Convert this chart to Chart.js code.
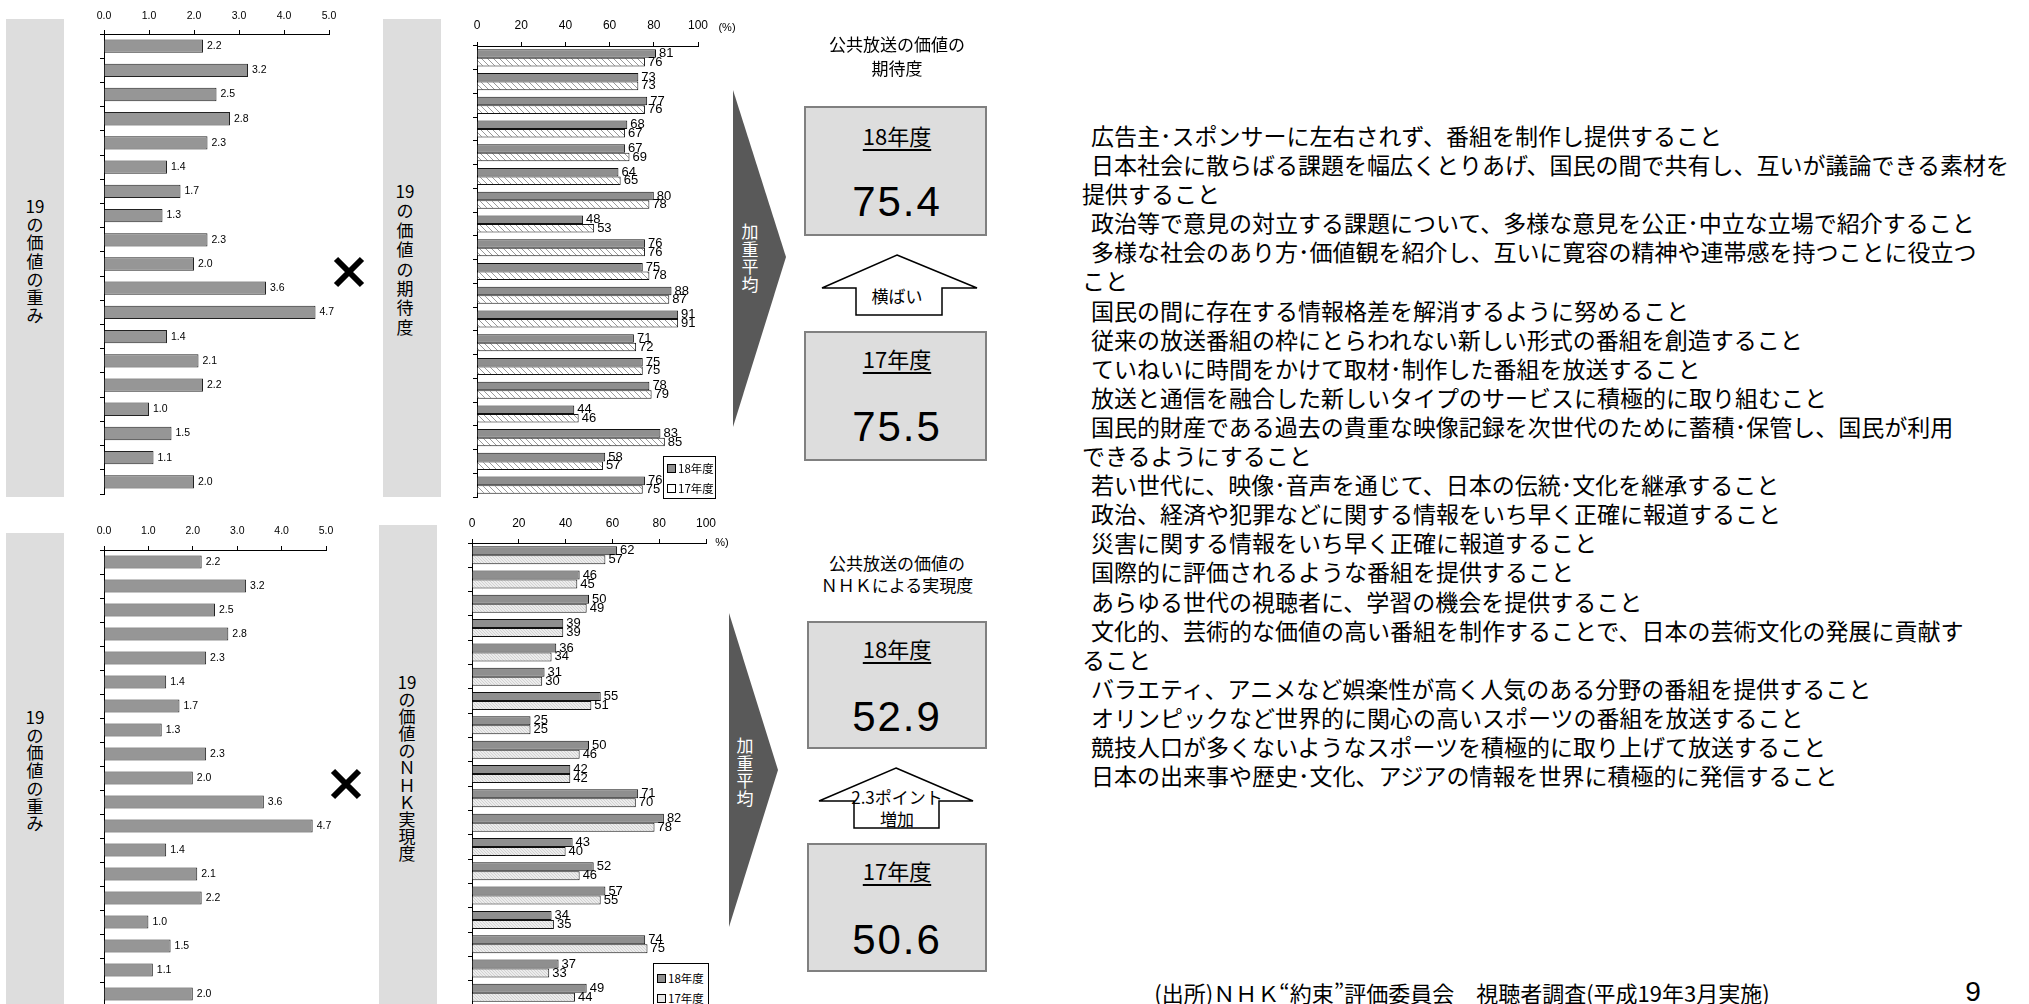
<!DOCTYPE html>
<html lang="ja">
<head>
<meta charset="utf-8">
<script src="https://cdn.jsdelivr.net/npm/chart.js@4.4.1/dist/chart.umd.min.js"></script>
<style>
html,body{margin:0;padding:0;background:#fff}
body{position:relative;width:2029px;height:1004px;overflow:hidden;font-family:"Noto Sans CJK JP","Noto Sans",sans-serif;color:#000}
canvas{position:absolute}
.panel{position:absolute;background:#dddddd}
.vt{position:absolute;text-align:center;font-size:17px;transform:translateX(-50%);white-space:nowrap}
.ctr{position:absolute;transform:translate(-50%,-50%);white-space:nowrap;text-align:center}
.box{position:absolute;background:#dddddd;border:2px solid #808080;box-sizing:border-box}
.yr{font-size:22px;text-decoration:underline;text-underline-offset:4px}
.num{font-family:"Liberation Sans",Arial,sans-serif;font-size:42px;letter-spacing:2px}
.legend{position:absolute;background:#fff;border:1px solid #000;box-sizing:border-box;font-size:11.5px;line-height:20px;padding:0 0 0 3px;white-space:nowrap;overflow:hidden}
.sw{display:inline-block;width:7px;height:7px;border:1px solid #000;margin-right:2px;vertical-align:0}
#list{position:absolute;left:1082px;top:121px;font-size:23px;line-height:29.1px;white-space:nowrap}
#list .first{padding-left:9px}
.sm{font-family:"Liberation Sans",Arial,sans-serif;font-size:11px}
</style>
</head>
<body>

<div class="panel" style="left:6px;top:19px;width:58px;height:478px"></div>
<div class="panel" style="left:6px;top:533px;width:58px;height:480px"></div>
<div class="panel" style="left:383px;top:19px;width:58px;height:478px"></div>
<div class="panel" style="left:379px;top:525px;width:58px;height:490px"></div>

<div class="vt" style="left:35px;top:197px;line-height:18.2px">19<br>の<br>価<br>値<br>の<br>重<br>み</div>
<div class="vt" style="left:35px;top:708px;line-height:17.7px">19<br>の<br>価<br>値<br>の<br>重<br>み</div>
<div class="vt" style="left:405px;top:181px;line-height:19.4px">19<br>の<br>価<br>値<br>の<br>期<br>待<br>度</div>
<div class="vt" style="left:407px;top:673px;line-height:17.1px">19<br>の<br>価<br>値<br>の<br>Ｎ<br>Ｈ<br>Ｋ<br>実<br>現<br>度</div>

<svg width="2029" height="1004" style="position:absolute;left:0;top:0">
  <polygon points="733,90 786,257 733,427" fill="#595959"/>
  <polygon points="729,613 778,770 729,927" fill="#595959"/>
  <polygon points="897,255 977,288 942,288 942,315 856,315 856,288 822,288" fill="#fff" stroke="#000" stroke-width="1.5"/>
  <polygon points="896,768 973,801 939,801 939,828 854,828 854,801 819,801" fill="#fff" stroke="#000" stroke-width="1.5"/>
  <path d="M336,259 L362,285 M362,259 L336,285" stroke="#000" stroke-width="6"/>
  <path d="M333,771 L359,797 M359,771 L333,797" stroke="#000" stroke-width="6"/>
</svg>

<div class="vt" style="left:750px;top:222px;line-height:17.5px;color:#fff">加<br>重<br>平<br>均</div>
<div class="vt" style="left:745px;top:736px;line-height:17.5px;color:#fff">加<br>重<br>平<br>均</div>

<canvas id="weightTop"></canvas>
<canvas id="weightBottom"></canvas>
<canvas id="expectChart"></canvas>
<canvas id="realChart"></canvas>

<div class="ctr sm" style="left:727px;top:27px">(%)</div>
<div class="ctr sm" style="left:722px;top:542px">%)</div>

<div class="legend" style="left:663px;top:456px;width:53px;height:43px;padding-top:1px">
  <div><span class="sw" style="background:#8f8f8f"></span>18年度</div>
  <div><span class="sw" style="background:#fff"></span>17年度</div>
</div>
<div class="legend" style="left:653px;top:963px;width:56px;height:50px;padding-top:4px">
  <div><span class="sw" style="background:#8f8f8f"></span>18年度</div>
  <div><span class="sw" style="background:#e6e6e6"></span>17年度</div>
</div>

<div class="ctr" style="left:897px;top:43px;font-size:17px">公共放送の価値の</div>
<div class="ctr" style="left:897px;top:67px;font-size:17px">期待度</div>
<div class="ctr" style="left:897px;top:562px;font-size:17px">公共放送の価値の</div>
<div class="ctr" style="left:897px;top:584px;font-size:17px">ＮＨＫによる実現度</div>

<div class="box" style="left:804px;top:106px;width:183px;height:130px"></div>
<div class="box" style="left:804px;top:331px;width:183px;height:130px"></div>
<div class="box" style="left:807px;top:621px;width:180px;height:128px"></div>
<div class="box" style="left:807px;top:843px;width:180px;height:129px"></div>

<div class="ctr yr" style="left:897px;top:135px">18年度</div>
<div class="ctr yr" style="left:897px;top:358px">17年度</div>
<div class="ctr yr" style="left:897px;top:648px">18年度</div>
<div class="ctr yr" style="left:897px;top:870px">17年度</div>
<div class="ctr num" id="e18" style="left:897px;top:202px"></div>
<div class="ctr num" id="e17" style="left:897px;top:427px"></div>
<div class="ctr num" id="r18" style="left:897px;top:717px"></div>
<div class="ctr num" id="r17" style="left:897px;top:940px"></div>

<div class="ctr" style="left:897px;top:295px;font-size:17px">横ばい</div>
<div class="ctr" style="left:897px;top:796px;font-size:17px">2.3ポイント</div>
<div class="ctr" style="left:897px;top:818px;font-size:17px">増加</div>

<div id="list"></div>

<div class="ctr" style="left:1462px;top:992px;font-size:22px">(出所)ＮＨＫ“約束”評価委員会　視聴者調査(平成19年3月実施)</div>
<div class="ctr" style="left:1973px;top:992px;font-size:28px;font-family:'Liberation Sans',Arial,sans-serif">9</div>

<script>
// 19 values of public broadcasting (one entry per item, split where the slide wraps)
var itemLines = [
  ["広告主･スポンサーに左右されず、番組を制作し提供すること"],
  ["日本社会に散らばる課題を幅広くとりあげ、国民の間で共有し、互いが議論できる素材を", "提供すること"],
  ["政治等で意見の対立する課題について、多様な意見を公正･中立な立場で紹介すること"],
  ["多様な社会のあり方･価値観を紹介し、互いに寛容の精神や連帯感を持つことに役立つ", "こと"],
  ["国民の間に存在する情報格差を解消するように努めること"],
  ["従来の放送番組の枠にとらわれない新しい形式の番組を創造すること"],
  ["ていねいに時間をかけて取材･制作した番組を放送すること"],
  ["放送と通信を融合した新しいタイプのサービスに積極的に取り組むこと"],
  ["国民的財産である過去の貴重な映像記録を次世代のために蓄積･保管し、国民が利用", "できるようにすること"],
  ["若い世代に、映像･音声を通じて、日本の伝統･文化を継承すること"],
  ["政治、経済や犯罪などに関する情報をいち早く正確に報道すること"],
  ["災害に関する情報をいち早く正確に報道すること"],
  ["国際的に評価されるような番組を提供すること"],
  ["あらゆる世代の視聴者に、学習の機会を提供すること"],
  ["文化的、芸術的な価値の高い番組を制作することで、日本の芸術文化の発展に貢献す", "ること"],
  ["バラエティ、アニメなど娯楽性が高く人気のある分野の番組を提供すること"],
  ["オリンピックなど世界的に関心の高いスポーツの番組を放送すること"],
  ["競技人口が多くないようなスポーツを積極的に取り上げて放送すること"],
  ["日本の出来事や歴史･文化、アジアの情報を世界に積極的に発信すること"]
];
var categories = itemLines.map(function(l){ return l.join(''); });

var weights  = [2.2, 3.2, 2.5, 2.8, 2.3, 1.4, 1.7, 1.3, 2.3, 2.0, 3.6, 4.7, 1.4, 2.1, 2.2, 1.0, 1.5, 1.1, 2.0];
var expect18 = [81, 73, 77, 68, 67, 64, 80, 48, 76, 75, 88, 91, 71, 75, 78, 44, 83, 58, 76];
var expect17 = [76, 73, 76, 67, 69, 65, 78, 53, 76, 78, 87, 91, 72, 75, 79, 46, 85, 57, 75];
var real18   = [62, 46, 50, 39, 36, 31, 55, 25, 50, 42, 71, 82, 43, 52, 57, 34, 74, 37, 49];
var real17   = [57, 45, 49, 39, 34, 30, 51, 25, 46, 42, 70, 78, 40, 46, 55, 35, 75, 33, 44];
var seriesNames = ['18年度', '17年度'];
var weightTicks = {max: 5, step: 1};
var percentTicks = {max: 100, step: 20};
var avgExpect = ['75.4', '75.5'];   // 18年度, 17年度
var avgReal   = ['52.9', '50.6'];

document.getElementById('e18').textContent = avgExpect[0];
document.getElementById('e17').textContent = avgExpect[1];
document.getElementById('r18').textContent = avgReal[0];
document.getElementById('r17').textContent = avgReal[1];

var list = document.getElementById('list');
itemLines.forEach(function(lines){
  lines.forEach(function(t, k){
    var d = document.createElement('div');
    if (k == 0) d.className = 'first';
    d.textContent = t;
    list.appendChild(d);
  });
});

function hatch(bg, fg, size){   // diagonal "\" stripes
  var c = document.createElement('canvas');
  c.width = c.height = size;
  var g = c.getContext('2d');
  g.fillStyle = bg; g.fillRect(0, 0, size, size);
  g.strokeStyle = fg; g.lineWidth = 1;
  g.beginPath();
  g.moveTo(-1, -1); g.lineTo(size + 1, size + 1);
  g.moveTo(size - 1, -1); g.lineTo(size + 1, 1);
  g.moveTo(-1, size - 1); g.lineTo(1, size + 1);
  g.stroke();
  return g.createPattern(c, 'repeat');
}

function valueLabels(font, dx, fmt){
  return {
    id: 'valueLabels',
    afterDatasetsDraw: function(chart){
      var ctx = chart.ctx;
      ctx.save();
      ctx.font = font;
      ctx.fillStyle = '#000';
      ctx.textBaseline = 'middle';
      chart.data.datasets.forEach(function(ds, i){
        chart.getDatasetMeta(i).data.forEach(function(bar, j){
          ctx.fillText(fmt(ds.data[j]), bar.x + dx, bar.y);
        });
      });
      ctx.restore();
    }
  };
}

// area = wanted chart area on the page; the canvas is placed around it
function drawBars(id, area, xH, tickPad, tickFont, ticks, fmt, datasets, catPct, labelPlugin){
  var yW = 20, padR = 45, padB = 4;
  var cv = document.getElementById(id);
  var left = area.l - yW, top = area.t - xH;
  cv.width = area.r - left + padR;
  cv.height = area.b - top + padB;
  cv.style.left = left + 'px';
  cv.style.top = top + 'px';
  return new Chart(cv, {
    type: 'bar',
    data: {labels: categories, datasets: datasets},
    options: {
      indexAxis: 'y',
      responsive: false,
      animation: false,
      categoryPercentage: catPct,
      barPercentage: 1,
      layout: {padding: {left: 0, top: 0, right: padR, bottom: padB}},
      plugins: {legend: {display: false}, tooltip: {enabled: false}},
      scales: {
        x: {
          position: 'top', min: 0, max: ticks.max,
          ticks: {stepSize: ticks.step, callback: fmt, color: '#000', padding: tickPad, maxRotation: 0,
                  font: {family: 'Liberation Sans', size: tickFont}},
          grid: {drawOnChartArea: false, tickLength: 4, color: '#000'},
          border: {color: '#000'},
          afterFit: function(s){ s.height = xH; }
        },
        y: {
          ticks: {display: false},
          grid: {drawOnChartArea: false, tickLength: 4, color: '#000', offset: true},
          border: {color: '#000'},
          afterFit: function(s){ s.width = yW; }
        }
      }
    },
    plugins: [labelPlugin]
  });
}

var oneDec = function(v){ return Number(v).toFixed(1); };
var plain = function(v){ return String(v); };

drawBars('weightTop', {l: 104, r: 329, t: 34, b: 494}, 33, 8, 10.5, weightTicks, oneDec,
  [{data: weights, backgroundColor: '#969696', borderColor: '#222', borderWidth: 1}],
  0.55, valueLabels('10.5px "Liberation Sans"', 4, oneDec));

drawBars('weightBottom', {l: 104, r: 326, t: 550, b: 1006}, 30, 9, 10.5, weightTicks, oneDec,
  [{data: weights, backgroundColor: '#969696', borderColor: '#222', borderWidth: 1}],
  0.55, valueLabels('10.5px "Liberation Sans"', 4, oneDec));

drawBars('expectChart', {l: 477, r: 698, t: 46, b: 497}, 36, 9, 12, percentTicks, plain,
  [{label: seriesNames[0], data: expect18, backgroundColor: '#8f8f8f', borderColor: '#111', borderWidth: 1},
   {label: seriesNames[1], data: expect17, backgroundColor: hatch('#ffffff', '#9a9a9a', 6), borderColor: '#111', borderWidth: 1}],
  0.72, valueLabels('13px "Liberation Sans"', 3, plain));

drawBars('realChart', {l: 472, r: 706, t: 543, b: 1005}, 36, 8, 12, percentTicks, plain,
  [{label: seriesNames[0], data: real18, backgroundColor: '#8f8f8f', borderColor: '#111', borderWidth: 1},
   {label: seriesNames[1], data: real17, backgroundColor: hatch('#ececec', '#d2d2d2', 3), borderColor: '#111', borderWidth: 1}],
  0.74, valueLabels('13px "Liberation Sans"', 3, plain));
</script>
</body>
</html>
